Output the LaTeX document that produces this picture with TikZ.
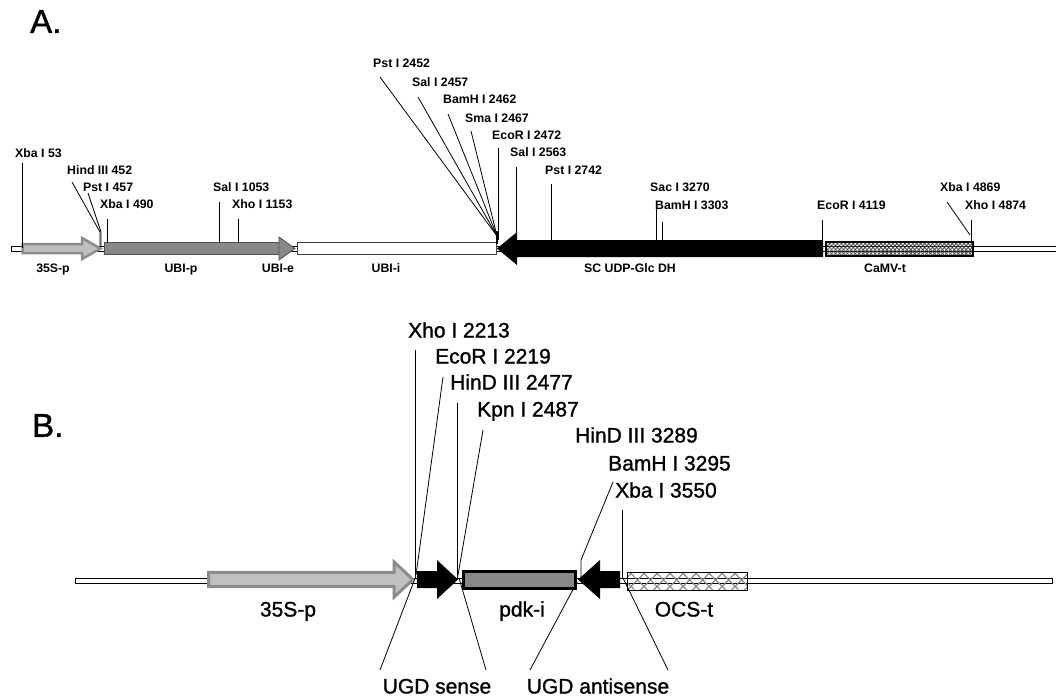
\documentclass[tikz,border=0pt]{standalone}
\usepackage{fontspec}
\setmainfont{Liberation Sans}
\newfontfamily\heavyfont[FakeBold=1.2]{Liberation Sans}
\usetikzlibrary{patterns.meta}
\definecolor{lgray}{HTML}{C0C0C0}
\definecolor{lborder}{HTML}{8C8C8C}
\definecolor{mgray}{HTML}{888888}
\definecolor{dborder}{HTML}{505050}
\definecolor{hatchgray}{HTML}{8A8A8A}
\begin{document}
\begin{tikzpicture}[x=1pt,y=-1pt,
  title/.style={font=\heavyfont\fontsize{33}{36}\selectfont, inner sep=0pt, anchor=west, text height=23.6pt, text depth=0pt},
  lab/.style={font=\bfseries\fontsize{12.3}{14}\selectfont, inner sep=0pt, anchor=west, text height=8.8pt, text depth=0pt},
  labc/.style={lab, anchor=center},
  blab/.style={font=\heavyfont\fontsize{21}{24}\selectfont, inner sep=0pt, anchor=west, text height=15pt, text depth=0pt},
  blabc/.style={blab, anchor=center},
  site/.style={line width=0.8pt},
  backbone/.style={draw=black, fill=white, line width=0.7pt},
  pro/.style={fill=lgray, draw=lborder, line width=2.5pt, line join=miter},
  ubip/.style={fill=mgray, draw=dborder, line width=0.8pt},
  ubii/.style={fill=white, draw=black!75, line width=0.8pt},
  camv/.style={pattern={Hatch[angle=45,distance=2.8pt,line width=0.8pt]}, pattern color=black!75, draw=black, line width=1.4pt},
  ocs/.style={pattern={Hatch[angle=45,distance=9.2pt,line width=1.2pt]}, pattern color=hatchgray, draw=black, line width=1pt},
  pdk/.style={fill=mgray, draw=black, line width=3pt}
]
\useasboundingbox (0,0) rectangle (1056,697);

% ---------------- Panel A ----------------
\node[title] (tA) at (30,21) {A.};

\draw[backbone] (11,246.5) rectangle (1056,251);

\draw[pro] (22.5,244) -- (82,244) -- (82,238) -- (100.5,248.5) -- (82,259) -- (82,253) -- (22.5,253) -- cycle;
\draw[ubip] (104,242.5) rectangle (279,254.5);
\draw[ubip] (279,237) -- (295,248.5) -- (279,260) -- cycle;
\draw[ubii] (297,242.5) rectangle (496,254.5);
\fill[black] (497,248.5) -- (517,232) -- (517,240) -- (823,240) -- (823,257) -- (517,257) -- (517,265) -- cycle;
\draw[camv] (826,242) rectangle (973,256);

\node[labc] (l35a) at (53,268) {35S-p};
\node[labc] (lubip) at (181,268) {UBI-p};
\node[labc] (lubie) at (278,268) {UBI-e};
\node[labc] (lubii) at (386,268) {UBI-i};
\node[labc] (lsc) at (630,268) {SC UDP-Glc DH};
\node[labc] (lcamv) at (885,268) {CaMV-t};

% site labels A
\node[lab] (sa1) at (15,153) {Xba I 53};
\node[lab] (sa2) at (67,170) {Hind III 452};
\node[lab] (sa3) at (83,187) {Pst I 457};
\node[lab] (sa4) at (100,204) {Xba I 490};
\node[lab] (sa5) at (213,187) {Sal I 1053};
\node[lab] (sa6) at (232,204) {Xho I 1153};
\node[lab] (sa7) at (373,63) {Pst I 2452};
\node[lab] (sa8) at (412,82) {Sal I 2457};
\node[lab] (sa9) at (443,99) {BamH I 2462};
\node[lab] (sa10) at (465,118) {Sma I 2467};
\node[lab] (sa11) at (492,135) {EcoR I 2472};
\node[lab] (sa12) at (510,152) {Sal I 2563};
\node[lab] (sa13) at (545,170) {Pst I 2742};
\node[lab] (sa14) at (650,187) {Sac I 3270};
\node[lab] (sa15) at (655,205) {BamH I 3303};
\node[lab] (sa16) at (817,205) {EcoR I 4119};
\node[lab] (sa17) at (940,187) {Xba I 4869};
\node[lab] (sa18) at (965,205) {Xho I 4874};

% site lines A
\coordinate (ja) at (100,232);
\coordinate (jb) at (497,236);
\draw[site] (22,163) -- (22,248);
\draw[site] (72,182) -- (ja) -- (100,246);
\draw[site] (88,193) -- (101,232) -- (101,246);
\draw[site] (107,219) -- (107,243);
\draw[site] (219,202) -- (219,243);
\draw[site] (238,219) -- (238,243);
\draw[site] (380,77) -- (jb);
\draw[site] (418,97) -- (jb);
\draw[site] (448,114) -- (jb);
\draw[site] (471,131) -- (jb);
\draw[site] (498,148) -- (498,240);
\draw[line width=2pt] (496.5,231) -- (496.5,244);
\draw[site] (516,167) -- (516,240);
\draw[site] (551,184) -- (551,240);
\draw[site] (656,206) -- (656,240);
\draw[site] (662,222) -- (662,240);
\draw[site] (822,220) -- (822,257);
\draw[site] (947,202) -- (970,235);
\draw[site] (971,220) -- (971,242);

% ---------------- Panel B ----------------
\node[title] (tB) at (32,425) {B.};

\draw[backbone] (75,578) rectangle (1052,583);

\draw[pro, line width=3pt] (208.5,572.3) -- (394,572.3) -- (394,561.8) -- (413,579.5) -- (394,597.2) -- (394,586.7) -- (208.5,586.7) -- cycle;
\fill[black] (417,571) -- (437,571) -- (437,560) -- (458,579.5) -- (437,599) -- (437,588) -- (417,588) -- cycle;
\draw[pdk] (463.5,571.5) rectangle (575.5,588.5);
\fill[black] (578,579.5) -- (600,560) -- (600,571) -- (620,571) -- (620,588) -- (600,588) -- (600,599) -- cycle;
\draw[ocs] (627,572) rectangle (747,590);

\node[blabc] (l35b) at (288,609) {35S-p};
\node[blabc] (lpdk) at (522,609) {pdk-i};
\node[blabc] (locs) at (684,609) {OCS-t};
\node[blabc] (lsense) at (437,686) {UGD sense};
\node[blabc] (lanti) at (598,686) {UGD antisense};

\node[blab] (sb1) at (408,330) {Xho I 2213};
\node[blab] (sb2) at (435,356) {EcoR I 2219};
\node[blab] (sb3) at (450,382) {HinD III 2477};
\node[blab] (sb4) at (477,409) {Kpn I 2487};
\node[blab] (sb5) at (575,435) {HinD III 3289};
\node[blab] (sb6) at (608,463) {BamH I 3295};
\node[blab] (sb7) at (615,490) {Xba I 3550};

\draw[site] (415,350) -- (415,578);
\draw[site] (443,377) -- (416,575);
\draw[site] (457,403) -- (457,578);
\draw[site] (483,430) -- (458,575);
\draw[site] (613,482) -- (581,560) -- (581,578);
\draw[site] (622,510) -- (622,578);

\draw[site] (380,670) -- (416,576);
\draw[site] (486,670) -- (459,578);
\draw[site] (530,670) -- (577,582);
\draw[site] (668,670) -- (623,578);
\end{tikzpicture}
\end{document}
